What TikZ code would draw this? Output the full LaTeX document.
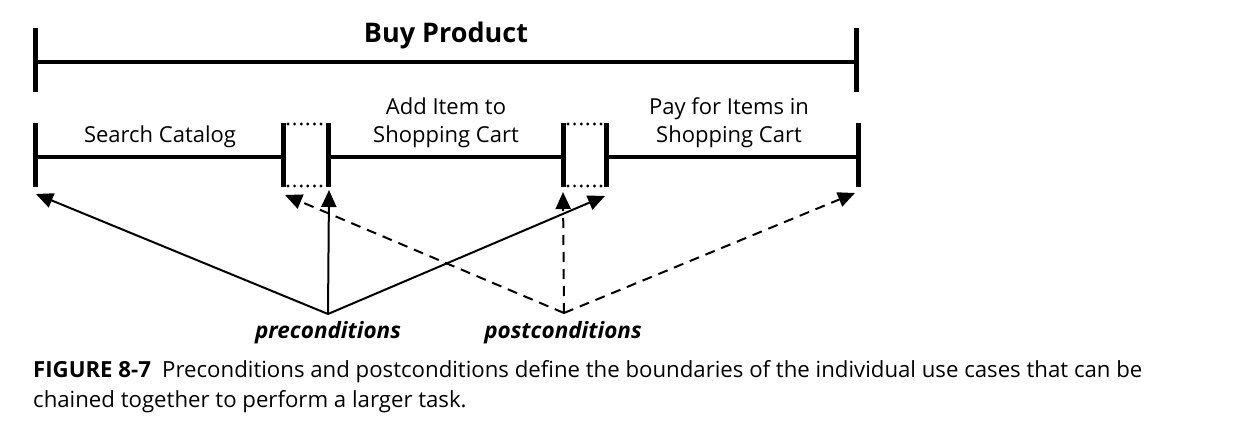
\documentclass[tikz,border=0pt]{standalone}
\usepackage{fontspec}
\setmainfont{Open Sans}
\usetikzlibrary{arrows.meta}
\begin{document}
\begin{tikzpicture}[x=1pt,y=-1pt,
  bar/.style={line width=5pt},
  hline/.style={line width=4.5pt},
  dotline/.style={line width=3.2pt, line cap=round, dash pattern=on 0pt off 6.6pt},
  pre/.style={line width=2pt,-{Triangle[length=17pt,width=15pt]}},
  post/.style={pre, dash pattern=on 10pt off 7pt},
  lbl/.style={font=\fontsize{22}{28}\selectfont, align=center, inner sep=0pt, anchor=base},
  cond/.style={font=\fontsize{22.5}{26}\selectfont\itshape\bfseries, inner sep=0pt, anchor=base},
  captxt/.style={font=\fontsize{22.2}{30}\selectfont, inner sep=0pt, anchor=base west}]
\useasboundingbox[fill=white] (0,0) rectangle (1233,443);
% top bar
\coordinate (tl) at (35,62);
\coordinate (tr) at (856,62);
\draw[bar] (35,28) -- (35,92);
\draw[bar] (856,28) -- (856,92);
\draw[hline] (tl) -- (tr);
\node[font=\fontsize{27}{32}\selectfont\bfseries, inner sep=0pt, anchor=base] (title) at (446,43) {Buy Product};
% lower row
\coordinate (s0) at (35,157);
\coordinate (b1l) at (283,157);
\coordinate (b1r) at (328,157);
\coordinate (b2l) at (563,157);
\coordinate (b2r) at (606,157);
\coordinate (e0) at (858,157);
\draw[hline] (s0) -- (b1l);
\draw[hline] (b1r) -- (b2l);
\draw[hline] (b2r) -- (e0);
\foreach \x in {35,283,328,563,606,858}{\draw[bar] (\x,123) -- (\x,187);}
\draw[dotline] (288,124) -- (324,124);
\draw[dotline] (288,186) -- (324,186);
\draw[dotline] (568,124) -- (602,124);
\draw[dotline] (568,186) -- (602,186);
\node[lbl] (sc) at (160,143) {Search Catalog};
\node[lbl] (ai) at (446,143) {Add Item to\\Shopping Cart};
\node[lbl] (pi) at (729,143) {Pay for Items in\\Shopping Cart};
% arrow targets
\coordinate (t1) at (36,194);
\coordinate (t2) at (329,190);
\coordinate (t3) at (605,196);
\coordinate (u1) at (285,195);
\coordinate (u2) at (563,192);
\coordinate (u3) at (855,193);
\coordinate (pc) at (328,314);
\coordinate (qc) at (564,313);
\draw[pre] (pc) -- (t1);
\draw[pre] (pc) -- (t2);
\draw[pre] (pc) -- (t3);
\draw[post] (qc) -- (u1);
\draw[post] (qc) -- (u2);
\draw[post] (qc) -- (u3);
\node[cond] (pre) at (328,338) {preconditions};
\node[cond] (post) at (563,338) {postconditions};
% caption
\node[captxt] (c1) at (33,377) {\textbf{FIGURE 8-7}\hspace{0.25em} Preconditions and postconditions define the boundaries of the individual use cases that can be};
\node[captxt] (c2) at (33,407) {chained together to perform a larger task.};
\end{tikzpicture}
\end{document}
